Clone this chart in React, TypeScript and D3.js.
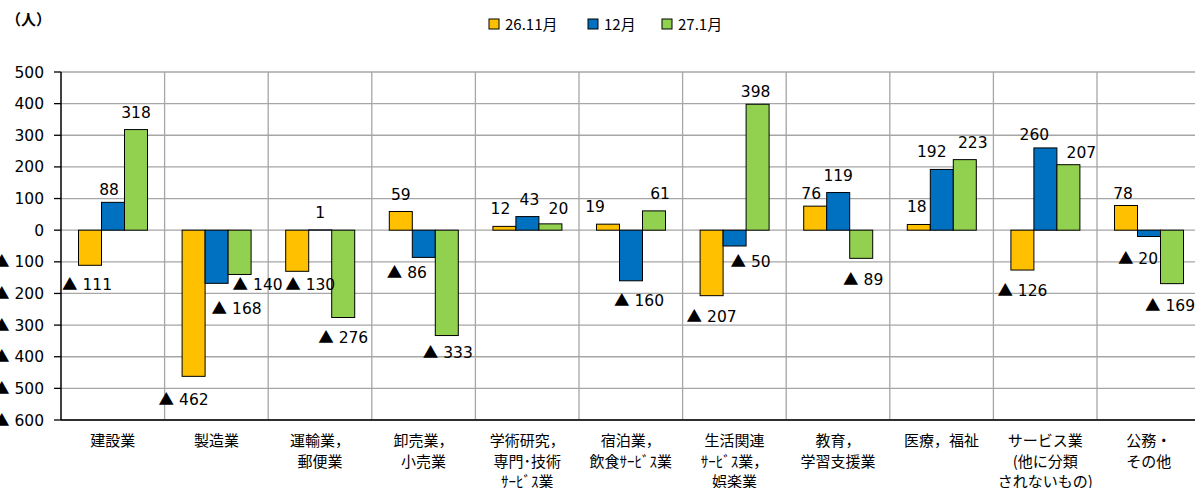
import { scaleBand, scaleLinear, range } from "d3";

const categories = [
  ["建設業"],
  ["製造業"],
  ["運輸業，", "郵便業"],
  ["卸売業，", "小売業"],
  ["学術研究，", "専門･技術", "ｻｰﾋﾞｽ業"],
  ["宿泊業，", "飲食ｻｰﾋﾞｽ業"],
  ["生活関連", "ｻｰﾋﾞｽ業，", "娯楽業"],
  ["教育，", "学習支援業"],
  ["医療，福祉"],
  ["サービス業", "(他に分類", "されないもの)"],
  ["公務・", "その他"],
];
const seriesNames = ["26.11月", "12月", "27.1月"];
const nov26 = [-111, -462, -130, 59, 12, 19, -207, 76, 18, -126, 78];
const dec26 = [88, -168, 1, -86, 43, -160, -50, 119, 192, 260, -20];
const jan27 = [318, -140, -276, -333, 20, 61, 398, -89, 223, 207, -169];
const yTicks = [500, 400, 300, 200, 100, 0, -100, -200, -300, -400, -500, -600];

const colors = ["#FFC000", "#0070C0", "#92D050"];
// labels that were dragged by hand in the original ("series-category" -> [dx, dy])
const labelNudge: Record<string, [number, number]> = {
  "0-0": [-3, -1],
  "0-1": [-10, 3],
  "1-1": [20, 5],
  "2-1": [18, -10],
  "0-2": [13, -7],
  "1-3": [-17, -5],
  "2-3": [1, -4],
  "1-5": [8, -1],
  "1-6": [16, -5],
  "2-7": [2, 1],
  "1-10": [-11, 1],
  "2-10": [-2, 1],
  "1-0": [-4, 5],
  "0-4": [-4, 0],
  "1-4": [2, 0],
  "2-4": [8, 2],
  "0-5": [-13, 0],
  "2-5": [6, 0],
  "2-6": [-2, 5],
  "0-7": [-4, 5],
  "0-8": [-2, 0],
  "1-8": [-10, 0],
  "2-8": [8, 0],
  "1-9": [-11, 4],
  "2-9": [13, 5],
  "0-10": [-3, 5],
};

const W = 1195;
const H = 488;
const left = 61;
const top = 72;
const bottom = 420;
const bandW = 103.6;

const numFont = "'DejaVu Sans', Verdana, sans-serif";
const jpFont = "'Noto Sans CJK JP', sans-serif";

const NumText = ({ v }: { v: number }) =>
  v < 0 ? (
    <>
      <tspan fontFamily={jpFont}>▲</tspan>
      <tspan> {Math.abs(v)}</tspan>
    </>
  ) : (
    <>{v}</>
  );

export default function App() {
  const series = [nov26, dec26, jan27];
  const x = scaleBand<number>()
    .domain(range(categories.length))
    .range([left, left + bandW * categories.length]);
  const inner = scaleBand<number>().domain([0, 1, 2]).range([17.5, 86.5]);
  const y = scaleLinear().domain([-600, 500]).range([bottom, top]);

  return (
    <svg
      width={W}
      height={H}
      style={{ position: "absolute", left: 0, top: 0, background: "#fff" }}
    >
      <text x={6} y={25} fontFamily={jpFont} fontSize={15} fontWeight="bold">
        （人）
      </text>

      {/* legend */}
      {seriesNames.map((s, i) => {
        const lx = [489, 588, 662][i];
        return (
          <g key={s}>
            <rect x={lx} y={19} width={10} height={10} fill={colors[i]} stroke="#000" strokeWidth={1} />
            <text x={lx + 16} y={30} fontFamily={jpFont} fontSize={15}>
              {s}
            </text>
          </g>
        );
      })}

      {/* grid */}
      {yTicks.map((t) => (
        <line key={t} x1={left} x2={W} y1={y(t)} y2={y(t)} stroke="#a6a6a6" strokeWidth={1.3} />
      ))}
      {range(1, categories.length).map((i) => (
        <line key={i} x1={x(i)!} x2={x(i)!} y1={top} y2={bottom} stroke="#a6a6a6" strokeWidth={1.3} />
      ))}

      {/* bars */}
      {series.map((vals, si) =>
        vals.map((v, ci) => (
          <rect
            key={`${si}-${ci}`}
            x={x(ci)! + inner(si)!}
            y={y(Math.max(0, v))}
            width={inner.bandwidth()}
            height={Math.abs(y(v) - y(0))}
            fill={colors[si]}
            stroke="#000"
            strokeWidth={1}
          />
        ))
      )}

      {/* axes */}
      <line x1={left} x2={left} y1={top} y2={bottom} stroke="#000" strokeWidth={1.5} />
      <line x1={left} x2={W} y1={bottom} y2={bottom} stroke="#000" strokeWidth={1.5} />
      {yTicks.map((t) => (
        <g key={t}>
          <line x1={left - 7} x2={left} y1={y(t)} y2={y(t)} stroke="#000" strokeWidth={1.3} />
          <text x={44} y={y(t) + 5.5} textAnchor="end" fontFamily={numFont} fontSize={15.5}>
            <NumText v={t} />
          </text>
        </g>
      ))}

      {/* data labels */}
      {series.map((vals, si) =>
        vals.map((v, ci) => {
          const [dx, dy] = labelNudge[`${si}-${ci}`] ?? [0, 0];
          const cx = x(ci)! + inner(si)! + inner.bandwidth() / 2 + dx;
          const ly = (v >= 0 ? y(v) - 12 : y(v) + 26) + dy;
          return (
            <text
              key={`l${si}-${ci}`}
              x={cx}
              y={ly}
              textAnchor="middle"
              fontFamily={numFont}
              fontSize={15.5}
            >
              <NumText v={v} />
            </text>
          );
        })
      )}

      {/* category labels */}
      {categories.map((lines, ci) => (
        <text
          key={ci}
          x={x(ci)! + bandW / 2}
          y={446}
          textAnchor="middle"
          fontFamily={jpFont}
          fontSize={15}
        >
          {lines.map((l, li) => (
            <tspan key={li} x={x(ci)! + bandW / 2} dy={li === 0 ? 0 : 20.5}>
              {l}
            </tspan>
          ))}
        </text>
      ))}
    </svg>
  );
}
